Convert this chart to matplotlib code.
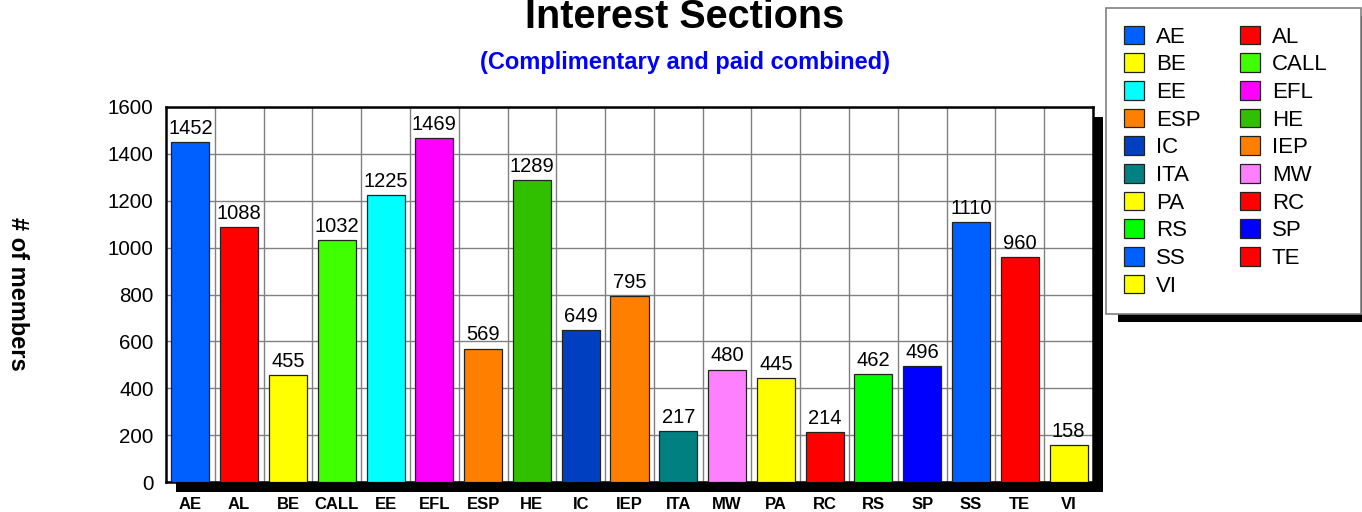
"""
Interest Sections bar chart, members per section
"""

import matplotlib.pyplot as plt
from matplotlib.patches import Patch, Rectangle

sections = ["AE", "AL", "BE", "CALL", "EE", "EFL", "ESP", "HE", "IC", "IEP",
            "ITA", "MW", "PA", "RC", "RS", "SP", "SS", "TE", "VI"]
members = [1452, 1088, 455, 1032, 1225, 1469, 569, 1289, 649, 795,
           217, 480, 445, 214, 462, 496, 1110, 960, 158]
colours = ["#0060FF", "#FF0000", "#FFFF00", "#40FF00", "#00FFFF", "#FF00FF",
           "#FF8000", "#30C000", "#0040C0", "#FF8000", "#008080", "#FF80FF",
           "#FFFF00", "#FF0000", "#00FF00", "#0000FF", "#0060FF", "#FF0000",
           "#FFFF00"]
yticks = [0, 200, 400, 600, 800, 1000, 1200, 1400, 1600]


def main():
    plt.rcParams['font.family'] = ['Liberation Sans', 'DejaVu Sans']
    W, H = 1362, 512
    fig = plt.figure(figsize=(W / 100, H / 100), dpi=100)
    left, right, top, bottom = 166, 1093, 107, 482
    rect = [left / W, 1 - bottom / H, (right - left) / W, (bottom - top) / H]
    ax = fig.add_axes(rect)

    # drop shadow behind the plot area
    fig.patches.append(Rectangle((rect[0] + 10 / W, rect[1] - 10 / H),
                                 rect[2], rect[3], transform=fig.transFigure,
                                 facecolor="black", edgecolor="none",
                                 zorder=-1))

    x = range(len(sections))
    bars = ax.bar(x, members, width=0.78, color=colours,
                  edgecolor="#222222", linewidth=0.9, zorder=3)
    ax.bar_label(bars, padding=3, fontsize=14.5)

    ax.set_xlim(-0.5, len(sections) - 0.5)
    ax.set_ylim(0, 1600)
    ax.set_yticks(yticks)
    ax.set_xticks(list(x))
    ax.set_xticklabels(sections, fontweight="bold", fontsize=12)
    ax.set_xticks([i + 0.5 for i in range(len(sections) - 1)], minor=True)
    ax.tick_params(axis="x", which="both", length=0, pad=11)
    ax.tick_params(axis="y", length=0, pad=9, labelsize=14.8)
    ax.grid(True, axis="y", color="#808080", linewidth=1, zorder=0)
    ax.grid(True, axis="x", which="minor", color="#808080", linewidth=1,
            zorder=0)
    ax.set_axisbelow(True)
    for s in ax.spines.values():
        s.set_linewidth(1.8)
        s.set_color("black")

    fig.text(17 / W, 1 - 294 / H, "# of members", rotation=-90, fontsize=17,
             fontweight="bold", ha="center", va="center")
    fig.text(685 / W, 1 - 28 / H, "Interest Sections", fontsize=28.5,
             fontweight="bold", ha="center", va="baseline")
    fig.text(685 / W, 1 - 69 / H, "(Complimentary and paid combined)",
             fontsize=17, fontweight="bold", color="#0000FF",
             ha="center", va="baseline")

    # legend: two columns, first column holds the even entries
    handles = [Patch(facecolor=c, edgecolor="#222222", linewidth=0.9)
               for c in colours]
    order = list(range(0, len(sections), 2)) + list(range(1, len(sections), 2))
    leg = fig.legend([handles[i] for i in order],
                     [sections[i] for i in order], ncol=2,
                     loc="upper left",
                     bbox_to_anchor=(1106 / W, 1 - 8 / H),
                     fontsize=16, fancybox=False, frameon=False,
                     handlelength=0.9, handleheight=0.9,
                     handletextpad=0.55, columnspacing=1.75,
                     labelspacing=0.26, borderpad=0.8, borderaxespad=0)
    leg.set_zorder(5)

    # own frame + shadow so the box can reach the right edge
    fig.canvas.draw()
    bb = leg.get_window_extent()
    x0, y1 = 1106, H - 8
    w, h = W - 1 - x0, bb.height
    fig.patches.append(Rectangle(((x0 + 12) / W, (y1 - h - 8) / H),
                                 w / W, h / H, transform=fig.transFigure,
                                 facecolor="black", edgecolor="none",
                                 zorder=4))
    fig.patches.append(Rectangle((x0 / W, (y1 - h) / H), w / W, h / H,
                                 transform=fig.transFigure,
                                 facecolor="white", edgecolor="#808080",
                                 linewidth=1.2, zorder=4.5))

    plt.savefig("out.png", dpi=100)


main()
